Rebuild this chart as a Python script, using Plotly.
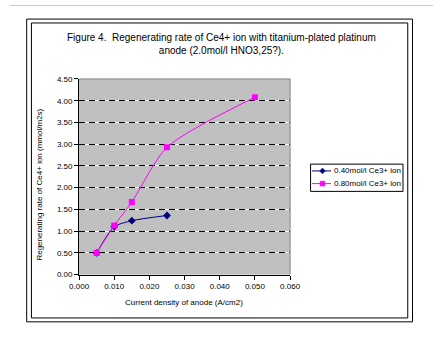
import plotly.graph_objects as go

# Current density of anode (A/cm2)
density_040 = [0.005, 0.010, 0.015, 0.025]
rate_040 = [0.50, 1.10, 1.24, 1.36]

density_080 = [0.005, 0.010, 0.015, 0.025, 0.050]
rate_080 = [0.50, 1.13, 1.67, 2.93, 4.08]

x_ticks = [0.000, 0.010, 0.020, 0.030, 0.040, 0.050, 0.060]
y_ticks = [0.00, 0.50, 1.00, 1.50, 2.00, 2.50, 3.00, 3.50, 4.00, 4.50]

series_names = ["0.40mol/l Ce3+ ion", "0.80mol/l Ce3+ ion"]
series_colors = ["#000080", "#FF00FF"]

W, H = 444, 339
FONT = "Arial, Liberation Sans, sans-serif"


def px(x):
    return x / W


def py(y):
    return 1 - y / H


fig = go.Figure()

fig.add_trace(go.Scatter(
    x=density_040, y=rate_040, name=series_names[0],
    mode="lines+markers", line=dict(color=series_colors[0], width=1, shape="spline", smoothing=0.7),
    marker=dict(symbol="diamond", size=6, color=series_colors[0]),
    showlegend=False,
))
fig.add_trace(go.Scatter(
    x=density_080, y=rate_080, name=series_names[1],
    mode="lines+markers", line=dict(color=series_colors[1], width=1, shape="spline", smoothing=0.7),
    marker=dict(symbol="square", size=6, color=series_colors[1]),
    showlegend=False,
))
# invisible trace carrying the dashed black half of the gridlines
fig.add_trace(go.Scatter(x=[None], y=[None], xaxis="x", yaxis="y2",
                         showlegend=False, hoverinfo="skip"))

x_dom = [px(72.5), px(294)]
y_dom = [py(278), py(77)]

shapes = [
    # thin grey line along the top of the page
    dict(type="line", xref="paper", yref="paper", x0=0, x1=1, y0=py(1.5), y1=py(1.5),
         line=dict(color="#C8C8C8", width=1)),
    # double frame around the chart
    dict(type="rect", xref="paper", yref="paper", x0=px(17.5), x1=px(422.5),
         y0=py(326.5), y1=py(15.5), line=dict(color="black", width=1)),
    dict(type="rect", xref="paper", yref="paper", x0=px(22.5), x1=px(417.5),
         y0=py(322.5), y1=py(19.5), line=dict(color="black", width=1)),
    # grey border of the plot area (top and right)
    dict(type="line", xref="paper", yref="paper", x0=x_dom[0], x1=x_dom[1],
         y0=y_dom[1], y1=y_dom[1], line=dict(color="#808080", width=1)),
    dict(type="line", xref="paper", yref="paper", x0=x_dom[1], x1=x_dom[1],
         y0=y_dom[0], y1=y_dom[1], line=dict(color="#808080", width=1)),
    # legend box
    dict(type="rect", xref="paper", yref="paper", x0=px(315.5), x1=px(412.5),
         y0=py(192.5), y1=py(164.5), line=dict(color="black", width=1), fillcolor="white"),
]

annotations = [
    dict(text="Figure 4.  Regenerating rate of Ce4+ ion with titanium-plated platinum<br>anode (2.0mol/l HNO3,25?).",
         x=px(222), y=py(41), xref="paper", yref="paper",
         xanchor="center", yanchor="middle", showarrow=False,
         font=dict(size=10, family=FONT), align="center"),
    dict(text="Current density of anode (A/cm2)", x=px(183), y=py(307),
         xref="paper", yref="paper", xanchor="center", yanchor="middle",
         showarrow=False, font=dict(size=8, family=FONT)),
    dict(text="Regenerating rate of Ce4+ ion (mmol/m2s)", x=px(31), y=py(186),
         xref="paper", yref="paper", xanchor="center", yanchor="middle",
         showarrow=False, textangle=-90, font=dict(size=8, family=FONT)),
]

# hand-drawn legend entries: line sample, marker glyph, label
legend_rows = [171.5, 184.5]
for i, (name, color, row) in enumerate(zip(series_names, series_colors, legend_rows)):
    shapes.append(dict(type="line", xref="paper", yref="paper", x0=px(317), x1=px(337),
                       y0=py(row), y1=py(row), line=dict(color=color, width=1)))
    cx, cy = 328, row
    if i == 0:
        path = (f"M {px(cx - 3)} {py(cy)} L {px(cx)} {py(cy - 3)} "
                f"L {px(cx + 3)} {py(cy)} L {px(cx)} {py(cy + 3)} Z")
        shapes.append(dict(type="path", xref="paper", yref="paper", path=path,
                           fillcolor=color, line=dict(color=color, width=0.5)))
    else:
        shapes.append(dict(type="rect", xref="paper", yref="paper",
                           x0=px(cx - 2.5), x1=px(cx + 2.5), y0=py(cy + 2.5), y1=py(cy - 2.5),
                           fillcolor=color, line=dict(color=color, width=0.5)))
    annotations.append(dict(text=name, x=px(338), y=py(row), xref="paper", yref="paper",
                            xanchor="left", yanchor="middle", showarrow=False,
                            font=dict(size=8, family=FONT)))

fig.update_layout(
    width=W, height=H,
    margin=dict(l=0, r=0, t=0, b=0),
    paper_bgcolor="white",
    plot_bgcolor="#C0C0C0",
    font=dict(family=FONT, size=8, color="black"),
    showlegend=False,
    xaxis=dict(
        domain=x_dom, range=[0, 0.06], tickvals=x_ticks,
        ticktext=[f"{v:.3f}" for v in x_ticks],
        showgrid=False, zeroline=False,
        showline=True, linecolor="black", linewidth=1,
        ticks="outside", ticklen=4, tickcolor="black",
        tickfont=dict(size=8),
    ),
    yaxis=dict(
        domain=y_dom, range=[0, 4.5], tickvals=y_ticks,
        ticktext=[f"{v:.2f}" for v in y_ticks],
        showgrid=True, gridcolor="white", gridwidth=1,
        zeroline=False,
        showline=True, linecolor="black", linewidth=1,
        ticks="outside", ticklen=4, tickcolor="black",
        tickfont=dict(size=8),
    ),
    yaxis2=dict(
        domain=y_dom, range=[0, 4.5], overlaying="y", tickvals=y_ticks[1:],
        showgrid=True, gridcolor="black", gridwidth=1, griddash="6px,4px",
        showticklabels=False, zeroline=False, showline=False, ticks="",
    ),
    annotations=annotations,
    shapes=shapes,
)

fig.write_html("out.html")
